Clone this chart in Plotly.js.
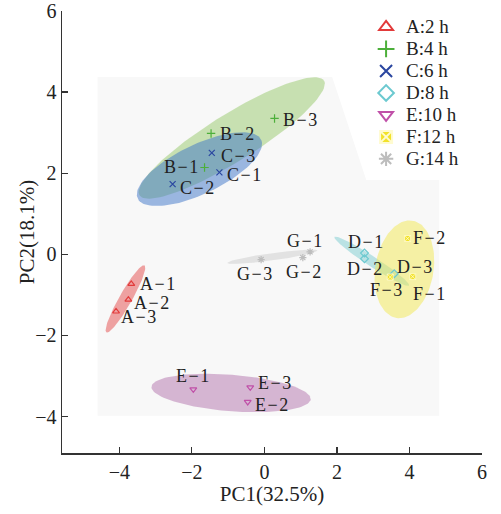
<!DOCTYPE html>
<html>
<head>
<meta charset="utf-8">
<script src="https://cdn.plot.ly/plotly-3.0.1.min.js"></script>
<style>html,body{margin:0;padding:0;background:#fff;}#chart{width:501px;height:514px;}</style>
</head>
<body>
<div id="chart"></div>
<script>
// ---- data ----
const groupNames = ['A:2 h', 'B:4 h', 'C:6 h', 'D:8 h', 'E:10 h', 'F:12 h', 'G:14 h'];
const sampleLabels = [
  ['A\u200A−\u200A1', 'A\u200A−\u200A2', 'A\u200A−\u200A3'],
  ['B\u200A−\u200A1', 'B\u200A−\u200A2', 'B\u200A−\u200A3'],
  ['C\u200A−\u200A1', 'C\u200A−\u200A2', 'C\u200A−\u200A3'],
  ['D\u200A−\u200A1', 'D\u200A−\u200A2', 'D\u200A−\u200A3'],
  ['E\u200A−\u200A1', 'E\u200A−\u200A2', 'E\u200A−\u200A3'],
  ['F\u200A−\u200A1', 'F\u200A−\u200A2', 'F\u200A−\u200A3'],
  ['G\u200A−\u200A1', 'G\u200A−\u200A2', 'G\u200A−\u200A3']
];
const pc1 = [
  [-3.67, -3.75, -4.09],
  [-1.65, -1.47, 0.28],
  [-1.24, -2.53, -1.45],
  [2.76, 2.76, 3.58],
  [-1.96, -0.46, -0.39],
  [4.09, 3.95, 3.47],
  [1.26, 1.06, -0.09]
];
const pc2 = [
  [-0.73, -1.12, -1.41],
  [2.14, 2.98, 3.35],
  [2.02, 1.73, 2.50],
  [0.03, -0.11, -0.48],
  [-3.33, -3.64, -3.28],
  [-0.55, 0.39, -0.56],
  [0.06, -0.08, -0.13]
];
const xTitle = 'PC1(32.5%)';
const yTitle = 'PC2(18.1%)';
// confidence ellipses: centre, semi-axes, rotation (deg)
const ellCx = [-3.83, -0.90, -1.79, 2.96, -0.92, 3.86, 0.22];
const ellCy = [-1.10, 2.87, 2.10, -0.17, -3.42, -0.37, -0.06];
const ellA = [0.98, 2.91, 1.85, 1.19, 2.20, 1.22, 1.25];
const ellB = [0.17, 0.60, 0.62, 0.13, 0.45, 0.80, 0.09];
const ellAng = [57.4, 28.8, 22.5, -30.2, -4, 78, 7];

// ---- styles ----
const markerColors = ['#e23a3a', '#4caf3a', '#2a46a0', '#6cc9d0', '#c050a8', '#f2e22a', '#bdbdbd'];
const markerSymbols = ['triangle-up-open', 'cross-thin-open', 'x-thin-open', 'diamond-open', 'triangle-down-open', 'square-x', 'asterisk-open'];
const fillColors = ['rgba(228,80,80,0.52)', 'rgba(140,195,90,0.45)', 'rgba(60,115,200,0.5)', 'rgba(110,200,205,0.45)', 'rgba(170,100,165,0.45)', 'rgba(242,232,80,0.5)', 'rgba(175,175,175,0.3)'];
// label placement (pixel offsets from each point)
const lblAnchor = [
  ['left', 'left', 'left'],
  ['right', 'left', 'left'],
  ['left', 'left', 'left'],
  ['center', 'center', 'left'],
  ['center', 'left', 'left'],
  ['left', 'left', 'center'],
  ['center', 'center', 'center']
];
const lblDx = [
  [8, 5, 4],
  [-6, 8, 7],
  [7, 6, 8],
  [1, 0, 2],
  [-1, 6, 7],
  [-1, 4, -4],
  [-6, 1, -7]
];
const lblDy = [
  [0, -3, -6],
  [1, -1, -2],
  [-3, -4, -3],
  [11, -10, 7],
  [13, -3, 4],
  [-17, 0, -13],
  [11, -14, -14]
];
const serif = '"Liberation Serif", "Times New Roman", serif';

const traces = [];
// ellipses first
for (let g = 0; g < groupNames.length; g++) {
  const ex = [], ey = [];
  const th = ellAng[g] * Math.PI / 180;
  for (let i = 0; i <= 120; i++) {
    const t = i / 120 * 2 * Math.PI;
    const u = ellA[g] * Math.cos(t), v = ellB[g] * Math.sin(t);
    ex.push(ellCx[g] + u * Math.cos(th) - v * Math.sin(th));
    ey.push(ellCy[g] + u * Math.sin(th) + v * Math.cos(th));
  }
  traces.push({
    x: ex, y: ey, type: 'scatter', mode: 'lines', fill: 'toself',
    fillcolor: fillColors[g], line: {width: 0, color: 'rgba(0,0,0,0)'},
    hoverinfo: 'skip', showlegend: false
  });
}
const annotations = [];
for (let g = 0; g < groupNames.length; g++) {
  const isF = markerSymbols[g] === 'square-x';
  traces.push({
    x: pc1[g], y: pc2[g], type: 'scatter', mode: 'markers',
    name: '<span style="font-size:19px">' + groupNames[g] + '</span>',
    marker: {
      symbol: markerSymbols[g], size: 6, color: markerColors[g],
      line: {width: isF ? 0.8 : 1.2, color: isF ? '#fffbd0' : markerColors[g]}
    }
  });
  for (let i = 0; i < pc1[g].length; i++) {
    annotations.push({
      x: pc1[g][i], y: pc2[g][i], xref: 'x', yref: 'y', text: sampleLabels[g][i],
      showarrow: false, xanchor: lblAnchor[g][i], yanchor: 'middle',
      xshift: lblDx[g][i], yshift: lblDy[g][i], borderpad: 0,
      font: {family: serif, size: 18, color: '#222'}
    });
  }
}
annotations.push({
  text: yTitle, xref: 'paper', yref: 'paper', x: -0.083, y: 0.5,
  xanchor: 'center', yanchor: 'middle', textangle: -90, showarrow: false,
  font: {family: serif, size: 21, color: '#222'}
});

const layout = {
  width: 501, height: 514,
  margin: {l: 62, r: 19, t: 11, b: 61},
  paper_bgcolor: '#fff', plot_bgcolor: '#fff',
  font: {family: serif, color: '#222', size: 20},
  showlegend: true,
  legend: {
    x: 0.724, y: 1.0, xanchor: 'left', yanchor: 'top',
    bgcolor: 'rgba(0,0,0,0)', font: {family: serif, size: 14.6, color: '#222'},
    itemsizing: 'constant'
  },
  xaxis: {
    range: [-5.58, 6], tickvals: [-4, -2, 0, 2, 4, 6],
    ticks: 'inside', ticklen: 6, tickwidth: 1.3, tickcolor: '#333',
    showline: true, linecolor: '#333', linewidth: 1.5,
    showgrid: false, zeroline: false,
    tickfont: {family: serif, size: 20, color: '#222'},
    title: {text: xTitle, font: {family: serif, size: 21, color: '#222'}, standoff: 4}
  },
  yaxis: {
    range: [-4.9, 6], tickvals: [-4, -2, 0, 2, 4, 6],
    ticks: 'inside', ticklen: 6, tickwidth: 1.3, tickcolor: '#333',
    showline: true, linecolor: '#333', linewidth: 1.5,
    showgrid: false, zeroline: false,
    tickfont: {family: serif, size: 20, color: '#222'}
  },
  annotations: annotations,
  shapes: [{
    type: 'path', layer: 'below', xref: 'x', yref: 'y',
    path: 'M -4.6 4.37 L 1.87 4.37 L 2.81 1.83 L 4.82 1.83 L 4.82 -3.98 L -4.6 -3.98 Z',
    fillcolor: '#f8f8f8', line: {width: 0}
  }]
};

Plotly.newPlot('chart', traces, layout, {displayModeBar: false, staticPlot: true});
</script>
</body>
</html>
